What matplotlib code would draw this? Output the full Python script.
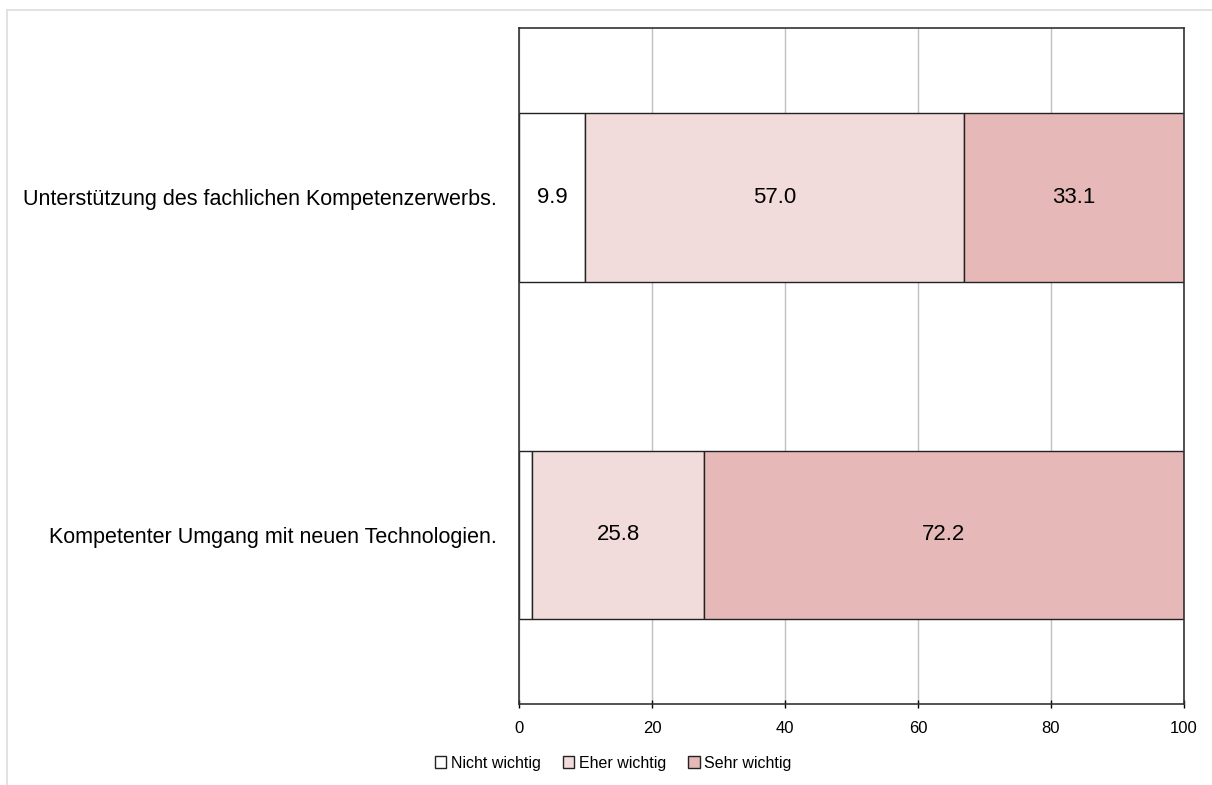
import matplotlib.pyplot as plt
from matplotlib.lines import Line2D

# survey answers in percent, one list per answer category
categories = ['Unterstützung des fachlichen Kompetenzerwerbs.',
              'Kompetenter Umgang mit neuen Technologien.']
nicht_wichtig = [9.9, 2.0]
eher_wichtig = [57.0, 25.8]
sehr_wichtig = [33.1, 72.2]
series_names = ['Nicht wichtig', 'Eher wichtig', 'Sehr wichtig']
colors = ['#FFFFFF', '#F2DCDB', '#E6B9B8']

plt.rcParams['font.family'] = ['Liberation Sans', 'DejaVu Sans']

fig = plt.figure(figsize=(12.12, 7.85), dpi=100)
ax = fig.add_axes([0.4282, 0.1032, 0.5487, 0.8611])

# thin frame around the chart area
fig.add_artist(Line2D([0.006, 1.0], [0.987, 0.987], color='#DDDDDD', lw=1.2,
                      transform=fig.transFigure))
fig.add_artist(Line2D([0.006, 0.006], [0.0, 0.987], color='#DDDDDD', lw=1.2,
                      transform=fig.transFigure))

ypos = [0, 1]
left = [0.0, 0.0]
for vals, name, col in zip([nicht_wichtig, eher_wichtig, sehr_wichtig], series_names, colors):
    bars = ax.barh(ypos, vals, left=left, height=0.5, color=col,
                   edgecolor='#222222', linewidth=1.0, label=name)
    for b, v, l in zip(bars, vals, left):
        if v >= 5:
            ax.text(l + v / 2, b.get_y() + b.get_height() / 2, '%.1f' % v,
                    ha='center', va='center', fontsize=16, color='black')
    left = [a + b for a, b in zip(left, vals)]

ax.set_xlim(0, 100)
ax.set_ylim(-0.5, 1.5)
ax.invert_yaxis()
ax.set_yticks(ypos)
ax.set_yticklabels(categories, fontsize=15.5)
ax.tick_params(axis='y', length=0, pad=16)
ax.set_xticks([0, 20, 40, 60, 80, 100])
ax.tick_params(axis='x', direction='inout', length=6, width=1, labelsize=12, pad=9)

ax.grid(axis='x', color='#C0C0C0', linewidth=1)
ax.set_axisbelow(True)
for s in ax.spines.values():
    s.set_color('#333333')
    s.set_linewidth(1.2)

fig.legend(loc='center', bbox_to_anchor=(0.506, 0.028), ncol=3, frameon=False,
           fontsize=11.5, handlelength=0.7, handleheight=0.7, handletextpad=0.3,
           columnspacing=1.4)

fig.savefig('out.png', dpi=100)
